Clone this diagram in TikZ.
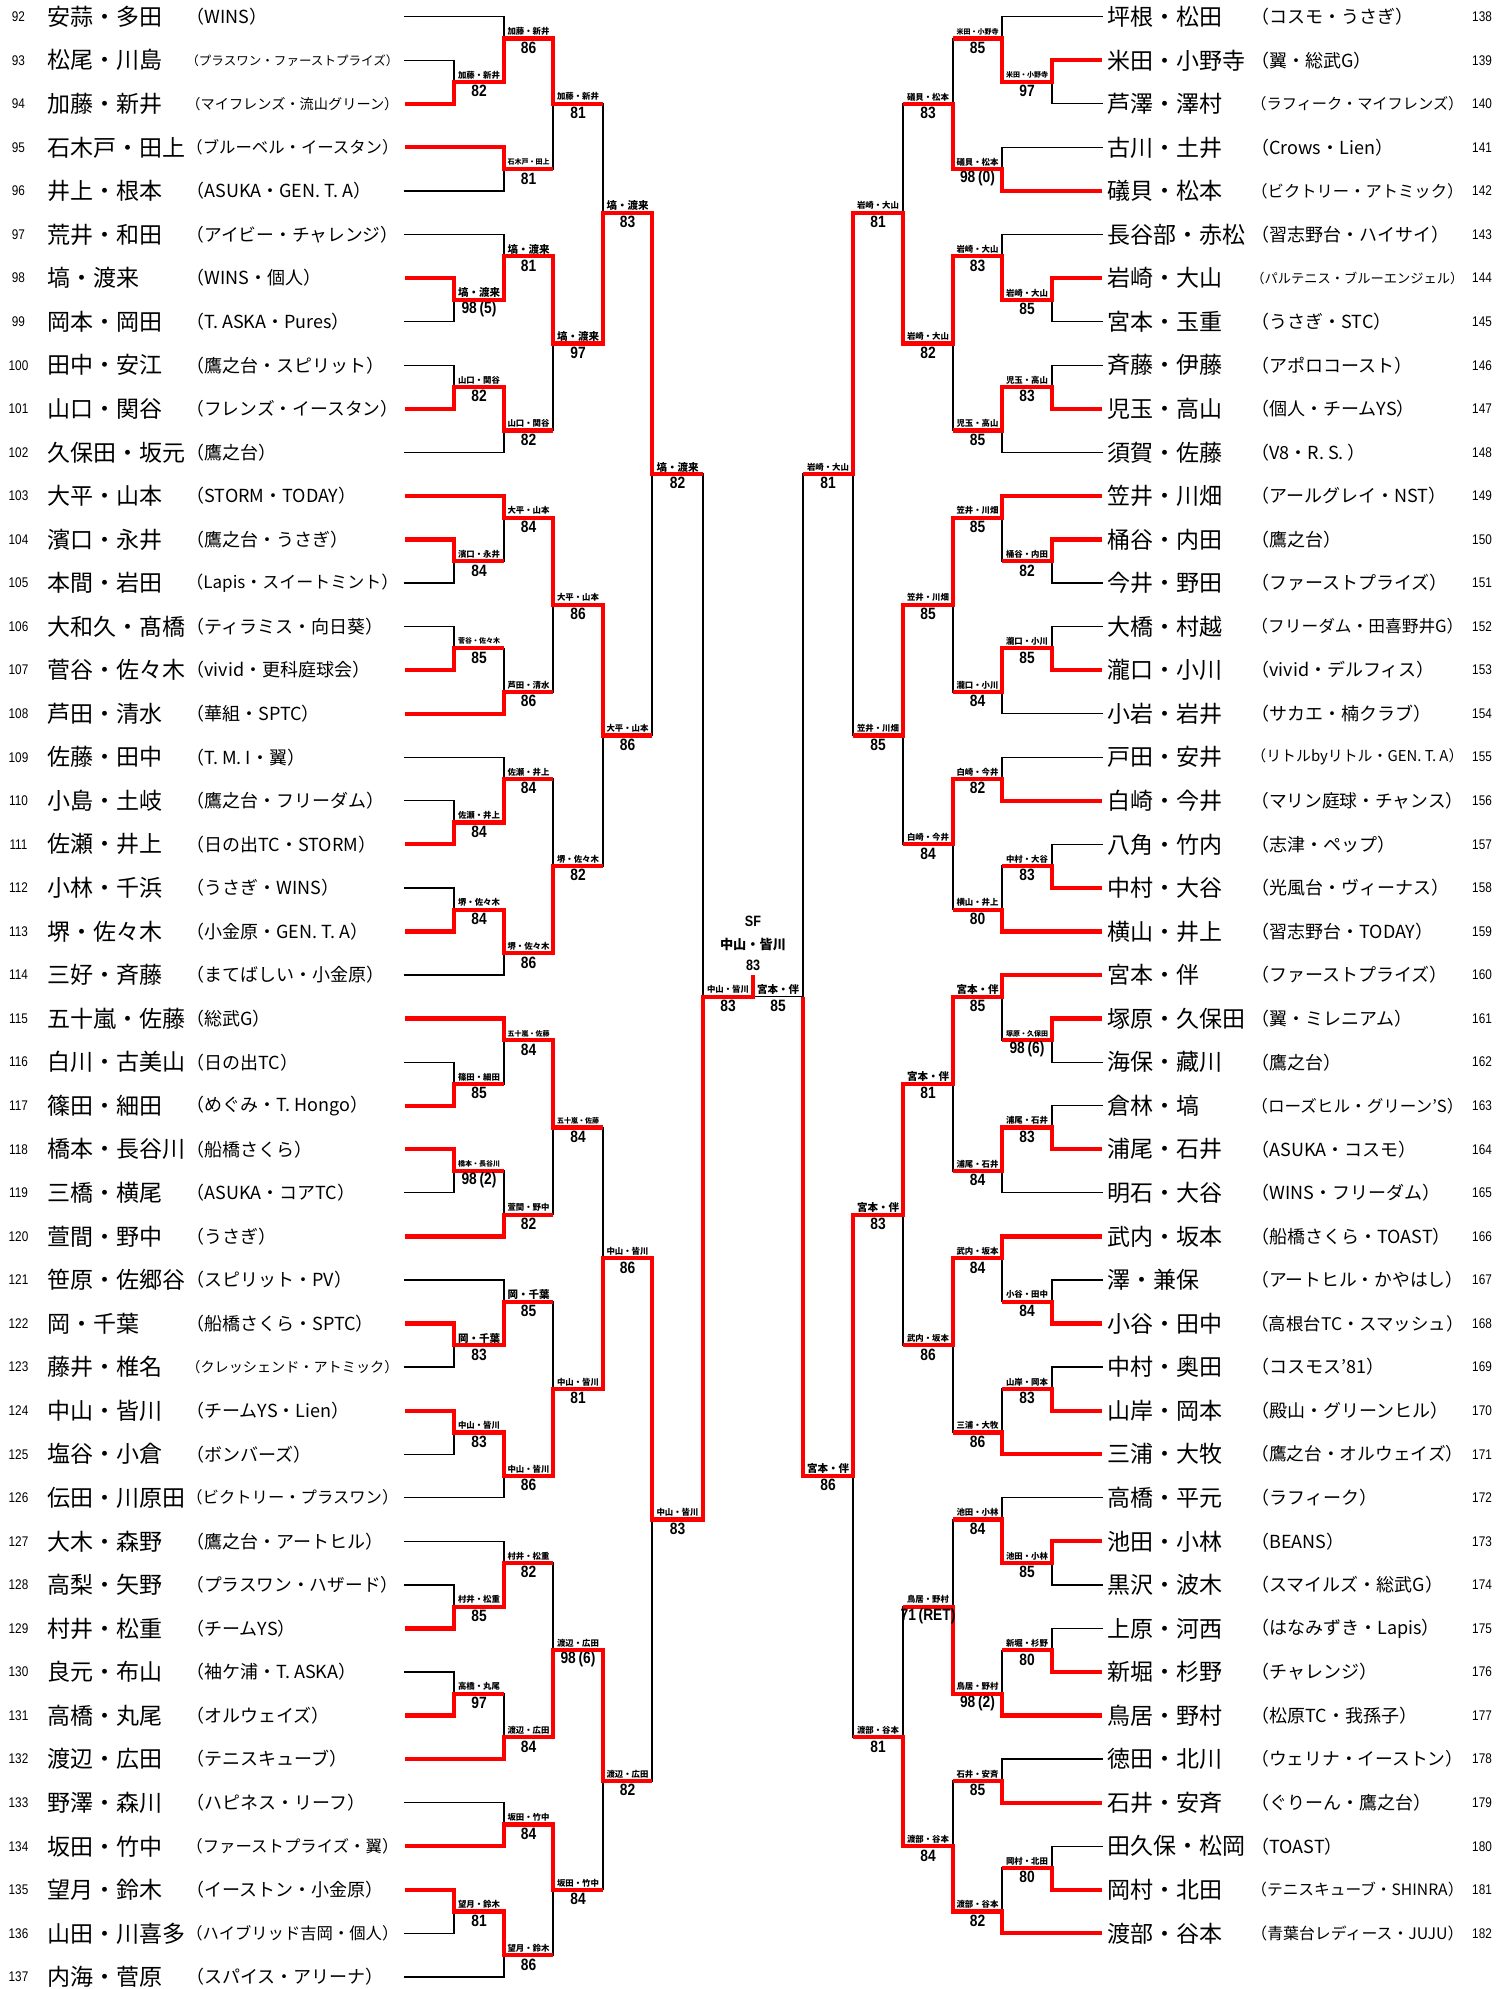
\documentclass[tikz,border=0pt]{standalone}
\usepackage{fontspec}
\usepackage{graphicx}
\setmainfont{Noto Sans CJK JP}
\newfontfamily\narrowf[FakeStretch=0.84]{Liberation Sans}
\usetikzlibrary{calc}
\pgfdeclarelayer{back}
\pgfdeclarelayer{bg}
\pgfsetlayers{back,bg,main}
\newsavebox\fitb
\newcommand\fitbox[2]{\sbox\fitb{#2}\ifdim\wd\fitb>#1\relax\resizebox{#1}{!}{\usebox\fitb}\else\usebox\fitb\fi}
\tikzset{
 win/.style={draw=red, line width=2.1pt, line join=miter, line cap=butt},
 lose/.style={draw=black, line width=0.65pt, line cap=rect},
 nm/.style={anchor=west, inner sep=0pt, font=\fontsize{11.5pt}{12pt}\selectfont},
 aff/.style={anchor=west, inner sep=0pt, font=\fontsize{9pt}{10pt}\selectfont},
 num/.style={inner sep=0pt, font=\narrowf\fontsize{7pt}{8pt}\selectfont},
 lbl/.style={inner sep=0pt, font=\bfseries\fontsize{5.25pt}{6pt}\selectfont},
 sc/.style={inner sep=0pt, font=\narrowf\bfseries\fontsize{8.2pt}{9pt}\selectfont},
}
% #1 id, #2 column x, #3 next column x, #4 top input, #5 bottom input, #6 output k, #7 winner t/b, #8 label, #9 score
\newcommand\match[9]{%
  \coordinate (#1v) at (#2,#6);
  \coordinate (#1) at (#3,#6);
  \coordinate (#1s) at (#2,#6);
  \if#7t
    \begin{pgfonlayer}{bg}\draw[lose] (#5s) -- (#5 -| #1v) -- (#1v);\end{pgfonlayer}
    \draw[win] (#4s) -- (#4 -| #1v) -- (#1v) -- (#1);
  \else
    \begin{pgfonlayer}{bg}\draw[lose] (#4s) -- (#4 -| #1v) -- (#1v);\end{pgfonlayer}
    \draw[win] (#5s) -- (#5 -| #1v) -- (#1v) -- (#1);
  \fi
  \path (#1v) -- node[lbl, yshift=3.5pt] (#1l) {\fitbox{21pt}{#8}} node[sc, yshift=-4.6pt] (#1n) {#9} (#1);
}
\newcommand\entL[3]{%
  \node[num] (N#1) at (18.5,{2*(#1-92)}) {#1};
  \node[nm] (P#1) at (46.7,{2*(#1-92)}) {#2};
  \node[aff] (A#1) at (186,{2*(#1-92)}) {\fitbox{106pt}{#3}};
  \coordinate (E#1) at (405,{2*(#1-92)});
  \coordinate (E#1s) at (405,{2*(#1-92)});}
\newcommand\entR[3]{%
  \node[num] (N#1) at (1482,{2*(#1-138)}) {#1};
  \node[nm] (P#1) at (1107,{2*(#1-138)}) {#2};
  \node[aff] (A#1) at (1251,{2*(#1-138)}) {\fitbox{106pt}{#3}};
  \coordinate (E#1) at (1102,{2*(#1-138)});
  \coordinate (E#1s) at (1102,{2*(#1-138)});}
\begin{document}
\begin{tikzpicture}[x=0.5pt, y=-10.89pt]
\begin{pgfonlayer}{back}
\fill[white] (0,-0.7668) rectangle (1511,90.555);
\end{pgfonlayer}
\useasboundingbox (0,-0.7668) rectangle (1511,90.555);
% ---------- left entries
\entL{92}{安蒜・多田}{（WINS）}
\entL{93}{松尾・川島}{（プラスワン・ファーストプライズ）}
\entL{94}{加藤・新井}{（マイフレンズ・流山グリーン）}
\entL{95}{石木戸・田上}{（ブルーベル・イースタン）}
\entL{96}{井上・根本}{（ASUKA・GEN. T. A）}
\entL{97}{荒井・和田}{（アイビー・チャレンジ）}
\entL{98}{塙・渡来}{（WINS・個人）}
\entL{99}{岡本・岡田}{（T. ASKA・Pures）}
\entL{100}{田中・安江}{（鷹之台・スピリット）}
\entL{101}{山口・関谷}{（フレンズ・イースタン）}
\entL{102}{久保田・坂元}{（鷹之台）}
\entL{103}{大平・山本}{（STORM・TODAY）}
\entL{104}{濱口・永井}{（鷹之台・うさぎ）}
\entL{105}{本間・岩田}{（Lapis・スイートミント）}
\entL{106}{大和久・髙橋}{（ティラミス・向日葵）}
\entL{107}{菅谷・佐々木}{（vivid・更科庭球会）}
\entL{108}{芦田・清水}{（華組・SPTC）}
\entL{109}{佐藤・田中}{（T. M. I・翼）}
\entL{110}{小島・土岐}{（鷹之台・フリーダム）}
\entL{111}{佐瀬・井上}{（日の出TC・STORM）}
\entL{112}{小林・千浜}{（うさぎ・WINS）}
\entL{113}{堺・佐々木}{（小金原・GEN. T. A）}
\entL{114}{三好・斉藤}{（まてばしい・小金原）}
\entL{115}{五十嵐・佐藤}{（総武G）}
\entL{116}{白川・古美山}{（日の出TC）}
\entL{117}{篠田・細田}{（めぐみ・T. Hongo）}
\entL{118}{橋本・長谷川}{（船橋さくら）}
\entL{119}{三橋・横尾}{（ASUKA・コアTC）}
\entL{120}{萱間・野中}{（うさぎ）}
\entL{121}{笹原・佐郷谷}{（スピリット・PV）}
\entL{122}{岡・千葉}{（船橋さくら・SPTC）}
\entL{123}{藤井・椎名}{（クレッシェンド・アトミック）}
\entL{124}{中山・皆川}{（チームYS・Lien）}
\entL{125}{塩谷・小倉}{（ボンバーズ）}
\entL{126}{伝田・川原田}{（ビクトリー・プラスワン）}
\entL{127}{大木・森野}{（鷹之台・アートヒル）}
\entL{128}{高梨・矢野}{（プラスワン・ハザード）}
\entL{129}{村井・松重}{（チームYS）}
\entL{130}{良元・布山}{（袖ケ浦・T. ASKA）}
\entL{131}{高橋・丸尾}{（オルウェイズ）}
\entL{132}{渡辺・広田}{（テニスキューブ）}
\entL{133}{野澤・森川}{（ハピネス・リーフ）}
\entL{134}{坂田・竹中}{（ファーストプライズ・翼）}
\entL{135}{望月・鈴木}{（イーストン・小金原）}
\entL{136}{山田・川喜多}{（ハイブリッド吉岡・個人）}
\entL{137}{内海・菅原}{（スパイス・アリーナ）}
% ---------- right entries
\entR{138}{坪根・松田}{（コスモ・うさぎ）}
\entR{139}{米田・小野寺}{（翼・総武G）}
\entR{140}{芦澤・澤村}{（ラフィーク・マイフレンズ）}
\entR{141}{古川・土井}{（Crows・Lien）}
\entR{142}{礒貝・松本}{（ビクトリー・アトミック）}
\entR{143}{長谷部・赤松}{（習志野台・ハイサイ）}
\entR{144}{岩崎・大山}{（パルテニス・ブルーエンジェル）}
\entR{145}{宮本・玉重}{（うさぎ・STC）}
\entR{146}{斉藤・伊藤}{（アポロコースト）}
\entR{147}{児玉・高山}{（個人・チームYS）}
\entR{148}{須賀・佐藤}{（V8・R. S. ）}
\entR{149}{笠井・川畑}{（アールグレイ・NST）}
\entR{150}{桶谷・内田}{（鷹之台）}
\entR{151}{今井・野田}{（ファーストプライズ）}
\entR{152}{大橋・村越}{（フリーダム・田喜野井G）}
\entR{153}{瀧口・小川}{（vivid・デルフィス）}
\entR{154}{小岩・岩井}{（サカエ・楠クラブ）}
\entR{155}{戸田・安井}{（リトルbyリトル・GEN. T. A）}
\entR{156}{白崎・今井}{（マリン庭球・チャンス）}
\entR{157}{八角・竹内}{（志津・ペップ）}
\entR{158}{中村・大谷}{（光風台・ヴィーナス）}
\entR{159}{横山・井上}{（習志野台・TODAY）}
\entR{160}{宮本・伴}{（ファーストプライズ）}
\entR{161}{塚原・久保田}{（翼・ミレニアム）}
\entR{162}{海保・藏川}{（鷹之台）}
\entR{163}{倉林・塙}{（ローズヒル・グリーン’S）}
\entR{164}{浦尾・石井}{（ASUKA・コスモ）}
\entR{165}{明石・大谷}{（WINS・フリーダム）}
\entR{166}{武内・坂本}{（船橋さくら・TOAST）}
\entR{167}{澤・兼保}{（アートヒル・かやはし）}
\entR{168}{小谷・田中}{（高根台TC・スマッシュ）}
\entR{169}{中村・奥田}{（コスモス’81）}
\entR{170}{山岸・岡本}{（殿山・グリーンヒル）}
\entR{171}{三浦・大牧}{（鷹之台・オルウェイズ）}
\entR{172}{高橋・平元}{（ラフィーク）}
\entR{173}{池田・小林}{（BEANS）}
\entR{174}{黒沢・波木}{（スマイルズ・総武G）}
\entR{175}{上原・河西}{（はなみずき・Lapis）}
\entR{176}{新堀・杉野}{（チャレンジ）}
\entR{177}{鳥居・野村}{（松原TC・我孫子）}
\entR{178}{徳田・北川}{（ウェリナ・イーストン）}
\entR{179}{石井・安斉}{（ぐりーん・鷹之台）}
\entR{180}{田久保・松岡}{（TOAST）}
\entR{181}{岡村・北田}{（テニスキューブ・SHINRA）}
\entR{182}{渡部・谷本}{（青葉台レディース・JUJU）}
% ---------- left bracket
\match{M1}{454}{504}{E93}{E94}{3}{b}{加藤・新井}{82}
\match{M2}{504}{553}{E92}{M1}{1}{b}{加藤・新井}{86}
\match{M3}{504}{553}{E95}{E96}{7}{t}{石木戸・田上}{81}
\match{M4}{553}{603}{M2}{M3}{4}{t}{加藤・新井}{81}
\match{M5}{454}{504}{E98}{E99}{13}{t}{塙・渡来}{98\,(5)}
\match{M6}{504}{553}{E97}{M5}{11}{b}{塙・渡来}{81}
\match{M7}{454}{504}{E100}{E101}{17}{b}{山口・関谷}{82}
\match{M8}{504}{553}{M7}{E102}{19}{t}{山口・関谷}{82}
\match{M9}{553}{603}{M6}{M8}{15}{t}{塙・渡来}{97}
\match{M10}{603}{652}{M4}{M9}{9}{b}{塙・渡来}{83}
\match{M12}{454}{504}{E104}{E105}{25}{t}{濱口・永井}{84}
\match{M13}{504}{553}{E103}{M12}{23}{t}{大平・山本}{84}
\match{M14}{454}{504}{E106}{E107}{29}{b}{菅谷・佐々木}{85}
\match{M15}{504}{553}{M14}{E108}{31}{b}{芦田・清水}{86}
\match{M16}{553}{603}{M13}{M15}{27}{t}{大平・山本}{86}
\match{M17}{454}{504}{E110}{E111}{37}{b}{佐瀬・井上}{84}
\match{M18}{504}{553}{E109}{M17}{35}{b}{佐瀬・井上}{84}
\match{M19}{454}{504}{E112}{E113}{41}{b}{堺・佐々木}{84}
\match{M20}{504}{553}{M19}{E114}{43}{t}{堺・佐々木}{86}
\match{M21}{553}{603}{M18}{M20}{39}{b}{堺・佐々木}{82}
\match{M22}{603}{652}{M16}{M21}{33}{t}{大平・山本}{86}
\match{M11}{652}{703}{M10}{M22}{21}{t}{塙・渡来}{82}
\match{M23}{454}{504}{E116}{E117}{49}{b}{篠田・細田}{85}
\match{M24}{504}{553}{E115}{M23}{47}{t}{五十嵐・佐藤}{84}
\match{M25}{454}{504}{E118}{E119}{53}{t}{橋本・長谷川}{98\,(2)}
\match{M26}{504}{553}{M25}{E120}{55}{b}{萱間・野中}{82}
\match{M27}{553}{603}{M24}{M26}{51}{t}{五十嵐・佐藤}{84}
\match{M28}{454}{504}{E122}{E123}{61}{t}{岡・千葉}{83}
\match{M29}{504}{553}{E121}{M28}{59}{b}{岡・千葉}{85}
\match{M30}{454}{504}{E124}{E125}{65}{t}{中山・皆川}{83}
\match{M31}{504}{553}{M30}{E126}{67}{t}{中山・皆川}{86}
\match{M32}{553}{603}{M29}{M31}{63}{b}{中山・皆川}{81}
\match{M33}{603}{652}{M27}{M32}{57}{b}{中山・皆川}{86}
\match{M35}{454}{504}{E128}{E129}{73}{b}{村井・松重}{85}
\match{M36}{504}{553}{E127}{M35}{71}{b}{村井・松重}{82}
\match{M37}{454}{504}{E130}{E131}{77}{b}{高橋・丸尾}{97}
\match{M38}{504}{553}{M37}{E132}{79}{b}{渡辺・広田}{84}
\match{M39}{553}{603}{M36}{M38}{75}{b}{渡辺・広田}{98\,(6)}
\match{M40}{504}{553}{E133}{E134}{83}{b}{坂田・竹中}{84}
\match{M41}{454}{504}{E135}{E136}{87}{t}{望月・鈴木}{81}
\match{M42}{504}{553}{M41}{E137}{89}{t}{望月・鈴木}{86}
\match{M43}{553}{603}{M40}{M42}{86}{t}{坂田・竹中}{84}
\match{M44}{603}{652}{M39}{M43}{81}{t}{渡辺・広田}{82}
\match{M34}{652}{703}{M33}{M44}{69}{t}{中山・皆川}{83}
% ---------- right bracket
\match{R1}{1052}{1002}{E139}{E140}{3}{t}{米田・小野寺}{97}
\match{R2}{1002}{953}{E138}{R1}{1}{b}{米田・小野寺}{85}
\match{R3}{1002}{953}{E141}{E142}{7}{b}{礒貝・松本}{98\,(0)}
\match{R4}{953}{903}{R2}{R3}{4}{b}{礒貝・松本}{83}
\match{R5}{1052}{1002}{E144}{E145}{13}{t}{岩崎・大山}{85}
\match{R6}{1002}{953}{E143}{R5}{11}{b}{岩崎・大山}{83}
\match{R7}{1052}{1002}{E146}{E147}{17}{b}{児玉・高山}{83}
\match{R8}{1002}{953}{R7}{E148}{19}{t}{児玉・高山}{85}
\match{R9}{953}{903}{R6}{R8}{15}{t}{岩崎・大山}{82}
\match{R10}{903}{853}{R4}{R9}{9}{b}{岩崎・大山}{81}
\match{R12}{1052}{1002}{E150}{E151}{25}{t}{桶谷・内田}{82}
\match{R13}{1002}{953}{E149}{R12}{23}{t}{笠井・川畑}{85}
\match{R14}{1052}{1002}{E152}{E153}{29}{b}{瀧口・小川}{85}
\match{R15}{1002}{953}{R14}{E154}{31}{t}{瀧口・小川}{84}
\match{R16}{953}{903}{R13}{R15}{27}{t}{笠井・川畑}{85}
\match{R17}{1002}{953}{E155}{E156}{35}{b}{白崎・今井}{82}
\match{R18}{1052}{1002}{E157}{E158}{39}{b}{中村・大谷}{83}
\match{R19}{1002}{953}{R18}{E159}{41}{b}{横山・井上}{80}
\match{R20}{953}{903}{R17}{R19}{38}{t}{白崎・今井}{84}
\match{R21}{903}{853}{R16}{R20}{33}{t}{笠井・川畑}{85}
\match{R11}{853}{803}{R10}{R21}{21}{t}{岩崎・大山}{81}
\match{R23}{1052}{1002}{E161}{E162}{47}{t}{塚原・久保田}{98\,(6)}
\match{R24}{1002}{953}{E160}{R23}{45}{t}{宮本・伴}{85}
\match{R25}{1052}{1002}{E163}{E164}{51}{b}{浦尾・石井}{83}
\match{R26}{1002}{953}{R25}{E165}{53}{t}{浦尾・石井}{84}
\match{R27}{953}{903}{R24}{R26}{49}{t}{宮本・伴}{81}
\match{R28}{1052}{1002}{E167}{E168}{59}{b}{小谷・田中}{84}
\match{R29}{1002}{953}{E166}{R28}{57}{t}{武内・坂本}{84}
\match{R30}{1052}{1002}{E169}{E170}{63}{b}{山岸・岡本}{83}
\match{R31}{1002}{953}{R30}{E171}{65}{b}{三浦・大牧}{86}
\match{R32}{953}{903}{R29}{R31}{61}{t}{武内・坂本}{86}
\match{R33}{903}{853}{R27}{R32}{55}{t}{宮本・伴}{83}
\match{R35}{1052}{1002}{E173}{E174}{71}{t}{池田・小林}{85}
\match{R36}{1002}{953}{E172}{R35}{69}{b}{池田・小林}{84}
\match{R37}{1052}{1002}{E175}{E176}{75}{b}{新堀・杉野}{80}
\match{R38}{1002}{953}{R37}{E177}{77}{b}{鳥居・野村}{98\,(2)}
\match{R39}{953}{903}{R36}{R38}{73}{b}{鳥居・野村}{71\,(RET)}
\match{R40}{1002}{953}{E178}{E179}{81}{b}{石井・安斉}{85}
\match{R41}{1052}{1002}{E180}{E181}{85}{b}{岡村・北田}{80}
\match{R42}{1002}{953}{R41}{E182}{87}{b}{渡部・谷本}{82}
\match{R43}{953}{903}{R40}{R42}{84}{b}{渡部・谷本}{84}
\match{R44}{903}{853}{R39}{R43}{79}{b}{渡部・谷本}{81}
\match{R34}{853}{803}{R33}{R44}{67}{t}{宮本・伴}{86}
% ---------- finals and SF
\coordinate (SFt) at (753,44);
\match{LF}{703}{753}{M11}{M34}{45}{b}{中山・皆川}{83}
\draw[win] (LFv) -- (LF) -- (SFt);
\coordinate (RFv) at (803,45);
\coordinate (RF) at (753,45);
\begin{pgfonlayer}{bg}
\draw[lose] (R11s) -- (R11 -| RFv) -- (RFv) -- (RF);
\end{pgfonlayer}
\draw[win] (R34s) -- (R34 -| RFv) -- (RFv);
\path (RFv) -- node[lbl, yshift=3.5pt] (RFl) {\fitbox{21pt}{宮本・伴}} node[sc, yshift=-4.6pt] (RFn) {85} (RF);
\node[inner sep=0pt, font=\narrowf\bfseries\fontsize{7.5pt}{8pt}\selectfont] (SFh) at (753,41.52) {SF};
\node[inner sep=0pt, font=\bfseries\fontsize{6.6pt}{7pt}\selectfont] (SFw) at (753,42.62) {中山・皆川};
\node[inner sep=0pt, font=\narrowf\bfseries\fontsize{7.5pt}{8pt}\selectfont] (SFs) at (753,43.57) {83};
\end{tikzpicture}
\end{document}
